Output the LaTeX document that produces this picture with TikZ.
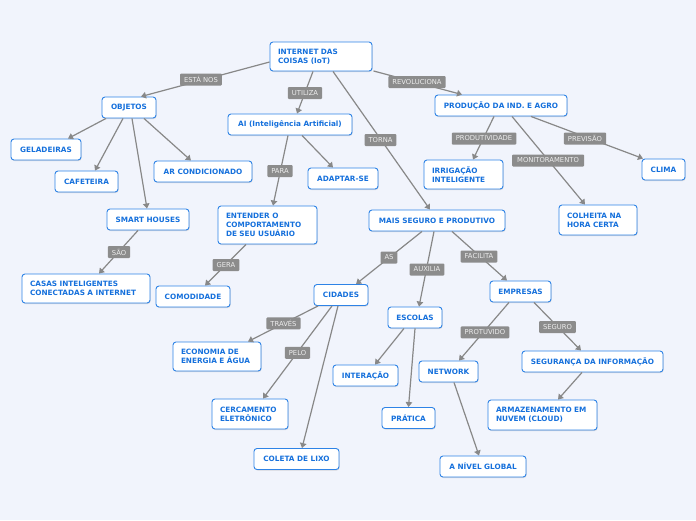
\documentclass[tikz,border=0pt]{standalone}
\usepackage{fontspec}
\setmainfont{DejaVu Sans}
\usetikzlibrary{arrows.meta,shadows}
\definecolor{bg}{HTML}{F1F4FC}
\definecolor{nodeborder}{HTML}{2E83E6}
\definecolor{nodetext}{HTML}{1570DC}
\definecolor{edgegray}{HTML}{888888}
\definecolor{labfill}{HTML}{8C8C8C}
\definecolor{labtext}{HTML}{EDEDED}
\tikzset{
  box/.style={draw=nodeborder, line width=0.9pt, fill=white, rounded corners=3pt,
    text=nodetext, font=\fontsize{7.3}{9}\selectfont\bfseries,
    inner xsep=8pt, inner ysep=0pt,
    drop shadow={opacity=0.25, shadow xshift=0.6pt, shadow yshift=-1pt}},
  one/.style={box, minimum width=#1, minimum height=21pt, align=center},
  multi/.style 2 args={box, text width=#1, minimum height=#2, align=left},
  edge/.style={draw=edgegray, line width=1.2pt, -{Triangle[length=5pt,width=6.5pt]}},
  lab/.style={fill=labfill, text=labtext, rounded corners=1pt,
    font=\fontsize{6.8}{8}\selectfont, inner xsep=4pt, inner ysep=1pt, minimum height=12pt}
}
\begin{document}
\begin{tikzpicture}[x=1pt,y=-1pt]
\fill[bg] (0,0) rectangle (696,520);
\useasboundingbox (0,0) rectangle (696,520);

% nodes
\node[multi={86pt}{29pt}] (iot) at (321,56.5) {INTERNET DAS\\COISAS (IoT)};
\node[one=54pt] (objetos) at (129,107.5) {OBJETOS};
\node[one=70pt] (geladeiras) at (46,149.5) {GELADEIRAS};
\node[one=63pt] (cafeteira) at (86.5,181.5) {CAFETEIRA};
\node[one=98pt] (ar) at (203,171.5) {AR CONDICIONADO};
\node[one=82pt] (smart) at (148,219.5) {SMART HOUSES};
\node[multi={112pt}{29pt}] (casas) at (86,288.5) {CASAS INTELIGENTES\\CONECTADAS A INTERNET};
\node[one=124pt] (ai) at (290,124.5) {AI (Inteligência Artificial)};
\node[one=70pt] (adaptar) at (343,178.5) {ADAPTAR-SE};
\node[multi={83pt}{38pt}] (entender) at (267.5,225) {ENTENDER O\\COMPORTAMENTO\\DE SEU USUÁRIO};
\node[one=74pt] (comodidade) at (193,296.5) {COMODIDADE};
\node[one=132pt] (producao) at (501,105.5) {PRODUÇÃO DA IND. E AGRO};
\node[multi={63pt}{29pt}] (irrigacao) at (463.5,174.5) {IRRIGAÇÃO\\INTELIGENTE};
\node[one=43pt] (clima) at (663.5,169.5) {CLIMA};
\node[multi={62pt}{30pt}] (colheita) at (598,220) {COLHEITA NA\\HORA CERTA};
\node[one=136pt] (mais) at (437,220.5) {MAIS SEGURO E PRODUTIVO};
\node[one=54pt] (cidades) at (341,295) {CIDADES};
\node[one=54pt] (escolas) at (415,317.5) {ESCOLAS};
\node[one=61pt] (empresas) at (520.5,291.5) {EMPRESAS};
\node[multi={72pt}{29pt}] (economia) at (217,356.5) {ECONOMIA DE\\ENERGIA E ÁGUA};
\node[multi={60pt}{30pt}] (cercamento) at (250,414) {CERCAMENTO\\ELETRÔNICO};
\node[one=85pt] (coleta) at (296.5,459) {COLETA DE LIXO};
\node[one=65pt] (interacao) at (365.5,375.5) {INTERAÇÃO};
\node[one=53pt] (pratica) at (408.5,418) {PRÁTICA};
\node[one=59pt] (network) at (448.5,371.5) {NETWORK};
\node[one=86pt] (global) at (483,466.5) {A NÍVEL GLOBAL};
\node[one=141pt] (seguranca) at (592.5,361.5) {SEGURANÇA DA INFORMAÇÃO};
\node[multi={93pt}{30pt}] (armazenamento) at (542.5,415) {ARMAZENAMENTO EM\\NUVEM (CLOUD)};

% connectors
\draw[edge] ([yshift=-5.5pt]iot.west) -- ([xshift=12pt]objetos.north);
\draw[edge] ([xshift=-8pt]iot.south) -- ([xshift=7pt]ai.north);
\draw[edge] ([xshift=12pt]iot.south) -- ([xshift=-7pt]mais.north);
\draw[edge] ([xshift=1pt,yshift=0.5pt]iot.south east) -- ([xshift=-39pt]producao.north);
\draw[edge] ([xshift=-23pt]objetos.south) -- ([xshift=22pt]geladeiras.north);
\draw[edge] ([xshift=-6pt]objetos.south) -- ([xshift=8.5pt]cafeteira.north);
\draw[edge] ([xshift=3pt]objetos.south) -- ([xshift=-1pt]smart.north);
\draw[edge] ([xshift=15pt]objetos.south) -- ([xshift=-12pt]ar.north);
\draw[edge] ([xshift=-10pt]smart.south) -- ([xshift=13pt]casas.north);
\draw[edge] ([xshift=12pt]ai.south) -- ([xshift=-10pt]adaptar.north);
\draw[edge] ([xshift=-2pt]ai.south) -- ([xshift=5.5pt]entender.north);
\draw[edge] ([xshift=-21.5pt]entender.south) -- ([xshift=12pt]comodidade.north);
\draw[edge] ([xshift=-7pt]producao.south) -- ([xshift=9.5pt]irrigacao.north);
\draw[edge] ([xshift=11pt]producao.south) -- ([xshift=-13pt]colheita.north);
\draw[edge] ([xshift=30pt]producao.south) -- ([xshift=-20.5pt]clima.north);
\draw[edge] ([xshift=-15pt]mais.south) -- ([xshift=15pt]cidades.north);
\draw[edge] ([xshift=-3pt]mais.south) -- ([xshift=4pt]escolas.north);
\draw[edge] ([xshift=15pt]mais.south) -- ([xshift=-13.5pt]empresas.north);
\draw[edge] ([xshift=-23pt]cidades.south) -- ([xshift=31pt]economia.north);
\draw[edge] ([xshift=-9pt]cidades.south) -- ([xshift=13pt]cercamento.north);
\draw[edge] ([xshift=-3pt]cidades.south) -- ([xshift=5.5pt]coleta.north);
\draw[edge] ([xshift=-11pt]escolas.south) -- ([xshift=9.5pt]interacao.north);
\draw[edge] (escolas.south) -- (pratica.north);
\draw[edge] ([xshift=-11.5pt]empresas.south) -- ([xshift=10.5pt]network.north);
\draw[edge] ([xshift=5.5pt]network.south) -- ([xshift=-4pt]global.north);
\draw[edge] ([xshift=13.5pt]empresas.south) -- ([xshift=-11.5pt]seguranca.north);
\draw[edge] ([xshift=-10.5pt]seguranca.south) -- ([xshift=15.5pt]armazenamento.north);

% connector labels
\node[lab] (l1) at (201,79.5) {ESTÁ NOS};
\node[lab] (l2) at (305,93) {UTILIZA};
\node[lab] (l3) at (380.5,140) {TORNA};
\node[lab] (l4) at (417,82) {REVOLUCIONA};
\node[lab] (l5) at (119,252) {SÃO};
\node[lab] (l6) at (280,171) {PARA};
\node[lab] (l7) at (226,265) {GERA};
\node[lab] (l8) at (484,138.5) {PRODUTIVIDADE};
\node[lab, minimum width=72pt] (l9) at (548,160.5) {MONITORAMENTO\hspace{6pt}};
\node[lab] (l10) at (585,138.5) {PREVISÃO};
\node[lab] (l11) at (389,257.5) {AS};
\node[lab] (l12) at (427,269.5) {AUXILIA};
\node[lab] (l13) at (479,256.5) {FACILITA};
\node[lab] (l14) at (283.5,323.3) {TRAVÉS};
\node[lab] (l15) at (297.5,352.8) {PELO};
\node[lab] (l16) at (485,332.3) {PROTUVIDO};
\node[lab] (l17) at (557.5,327) {SEGURO};
\end{tikzpicture}
\end{document}
